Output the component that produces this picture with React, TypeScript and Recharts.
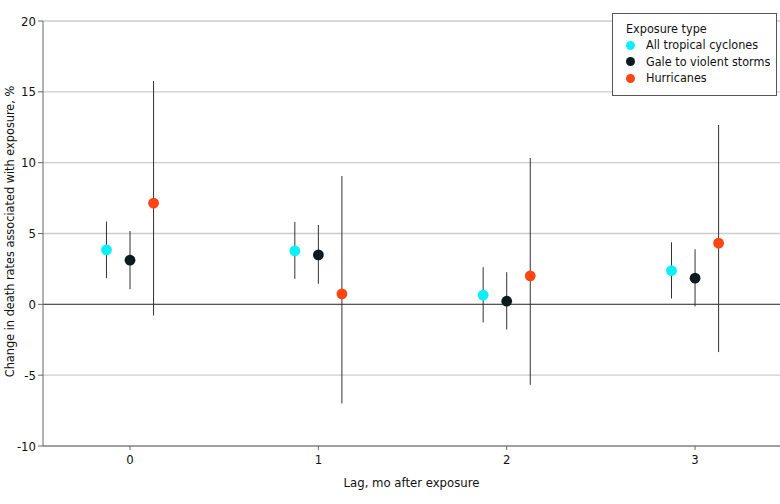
import React from "react";
import {
  ComposedChart,
  Scatter,
  XAxis,
  YAxis,
  CartesianGrid,
  ErrorBar,
  ReferenceLine,
  Label,
} from "recharts";

// Lag in months after exposure
const lags = [0, 1, 2, 3];

// Percent change in death rates with 95% CI, per exposure type
const allTropicalEstimate = [3.84, 3.77, 0.65, 2.38];
const allTropicalLower = [1.85, 1.8, -1.28, 0.41];
const allTropicalUpper = [5.84, 5.82, 2.62, 4.38];

const galeEstimate = [3.12, 3.49, 0.22, 1.85];
const galeLower = [1.07, 1.45, -1.78, -0.15];
const galeUpper = [5.18, 5.6, 2.27, 3.89];

const hurricaneEstimate = [7.14, 0.74, 2.01, 4.32];
const hurricaneLower = [-0.79, -7.0, -5.68, -3.37];
const hurricaneUpper = [15.76, 9.06, 10.33, 12.66];

const yTicks = [-10, -5, 0, 5, 10, 15, 20];

const FONT = '"DejaVu Sans Condensed", "Liberation Sans Narrow", sans-serif';

type Series = {
  name: string;
  color: string;
  offset: number;
  estimate: number[];
  lower: number[];
  upper: number[];
};

const series: Series[] = [
  {
    name: "All tropical cyclones",
    color: "#0AF0FA",
    offset: -0.125,
    estimate: allTropicalEstimate,
    lower: allTropicalLower,
    upper: allTropicalUpper,
  },
  {
    name: "Gale to violent storms",
    color: "#0B1B1E",
    offset: 0,
    estimate: galeEstimate,
    lower: galeLower,
    upper: galeUpper,
  },
  {
    name: "Hurricanes",
    color: "#FF4510",
    offset: 0.125,
    estimate: hurricaneEstimate,
    lower: hurricaneLower,
    upper: hurricaneUpper,
  },
];

const toPoints = (s: Series) =>
  lags.map((lag, i) => ({
    x: lag + s.offset,
    y: s.estimate[i],
    err: [s.estimate[i] - s.lower[i], s.upper[i] - s.estimate[i]],
  }));

const dotShape = (color: string) => (props: any) =>
  <circle cx={props.cx} cy={props.cy} r={5.4} fill={color} />;

const LegendBox = () => (
  <div
    style={{
      position: "absolute",
      left: 612,
      top: 13,
      width: 165,
      height: 83,
      border: "1px solid #555",
      background: "#fff",
      boxSizing: "border-box",
      fontFamily: FONT,
      fontSize: 12.5,
      color: "#111",
      padding: "7px 0 0 13px",
      lineHeight: "16.3px",
      whiteSpace: "nowrap",
    }}
  >
    <div>Exposure type</div>
    {series.map((s) => (
      <div key={s.name} style={{ display: "flex", alignItems: "center" }}>
        <span
          style={{
            display: "inline-block",
            width: 9,
            height: 9,
            borderRadius: "50%",
            background: s.color,
            marginRight: 11,
            flexShrink: 0,
          }}
        />
        <span>{s.name}</span>
      </div>
    ))}
  </div>
);

export default function App() {
  return (
    <div style={{ position: "absolute", left: 0, top: 0, width: 780, height: 504 }}>
      <ComposedChart
        width={780}
        height={504}
        margin={{ top: 21, right: 0, bottom: 0, left: 0 }}
        style={{ fontFamily: FONT }}
      >
        <CartesianGrid vertical={false} stroke="#cccccc" strokeWidth={1.3} />
        <XAxis
          type="number"
          dataKey="x"
          domain={[-0.462, 3.451]}
          ticks={lags}
          allowDataOverflow
          height={58}
          stroke="#666"
          tickSize={4}
          tickMargin={5}
          tick={{ fill: "#111", fontSize: 13, fontFamily: FONT }}
        >
          <Label
            value="Lag, mo after exposure"
            position="insideBottom"
            offset={17}
            style={{ fill: "#111", fontSize: 13, fontFamily: FONT }}
          />
        </XAxis>
        <YAxis
          type="number"
          dataKey="y"
          domain={[-10, 20]}
          ticks={yTicks}
          width={43}
          stroke="#666"
          tickSize={5}
          tickMargin={2}
          tick={{ fill: "#111", fontSize: 13, fontFamily: FONT }}
        >
          <Label
            content={(props: any) => {
              const vb = props.viewBox || { x: 0, y: 21, height: 425 };
              const cx = 9;
              const cy = vb.y + vb.height / 2 - 2;
              return (
                <text
                  x={cx}
                  y={cy}
                  transform={`rotate(-90 ${cx} ${cy})`}
                  textAnchor="middle"
                  dominantBaseline="central"
                  style={{ fill: "#111", fontSize: 12.6, fontFamily: FONT }}
                >
                  Change in death rates associated with exposure, %
                </text>
              );
            }}
          />
        </YAxis>
        <ReferenceLine y={0} stroke="#555" strokeWidth={1.2} />
        {series.map((s) => (
          <Scatter
            key={s.name}
            name={s.name}
            data={toPoints(s)}
            fill={s.color}
            shape={dotShape(s.color)}
            isAnimationActive={false}
          >
            <ErrorBar
              dataKey="err"
              direction="y"
              width={0}
              stroke="#333"
              strokeWidth={1}
              isAnimationActive={false}
            />
          </Scatter>
        ))}
      </ComposedChart>
      <LegendBox />
    </div>
  );
}
